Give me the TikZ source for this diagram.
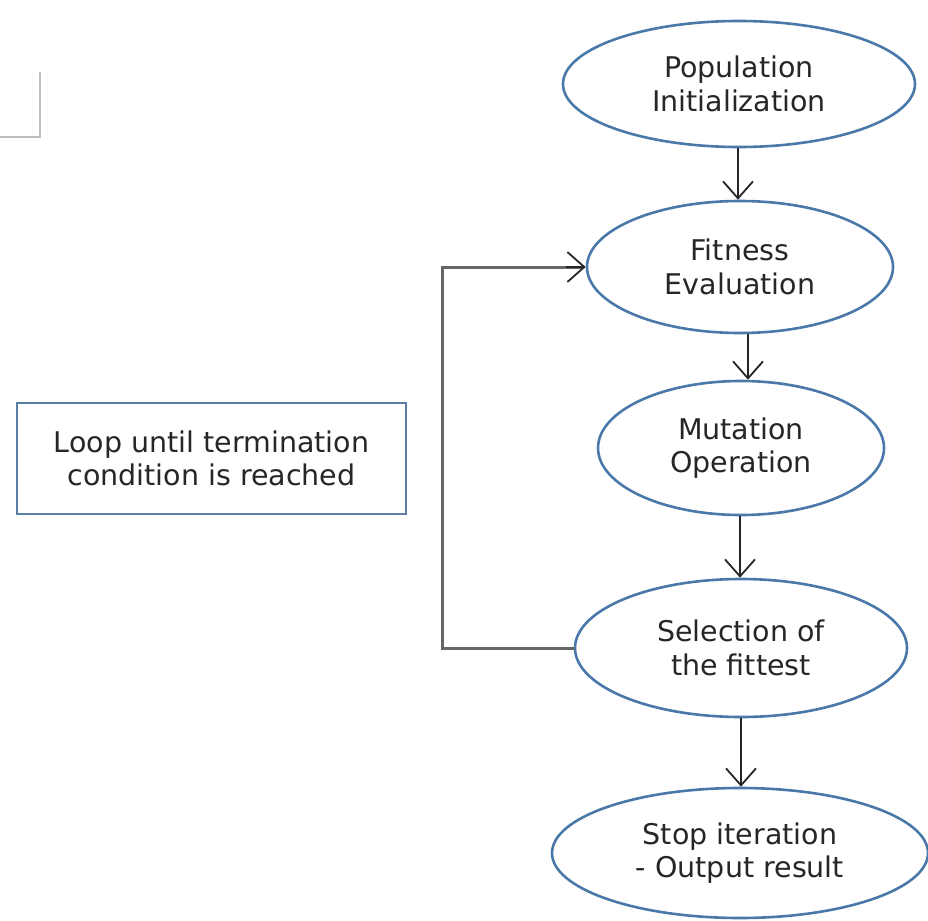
\documentclass[tikz,border=0pt]{standalone}
\usepackage{fontspec}
\setmainfont{DejaVu Sans}
\usetikzlibrary{shapes.geometric,arrows.meta}
\definecolor{ellblue}{HTML}{4A78A8}
\definecolor{boxblue}{HTML}{5A7EA6}
\definecolor{txt}{HTML}{262626}
\definecolor{loopgray}{HTML}{666666}
\tikzset{
  stage/.style={ellipse, draw=ellblue, line width=2.6pt, inner sep=0pt,
    align=center, text=txt, font=\fontsize{28.5}{33.5}\selectfont},
  note/.style={rectangle, draw=boxblue, line width=2.2pt, inner sep=0pt,
    align=center, text=txt, font=\fontsize{28.5}{33.5}\selectfont},
  flow/.style={draw=black!85, line width=1.8pt,
    -{Straight Barb[length=17pt,width=30pt,line width=1.8pt]}},
  loopline/.style={draw=loopgray, line width=3pt},
}
\begin{document}
\begin{tikzpicture}[x=1pt,y=-1pt]
  \useasboundingbox (0,0) rectangle (928,920);
  % corner mark at the upper left
  \draw[black!25, line width=1.5pt] (40,72) -- (40,137) -- (0,137);

  % process stages
  \node[stage, minimum width=352pt, minimum height=126pt] (pop) at (739,84) {Population\\Initialization};
  \node[stage, minimum width=306pt, minimum height=132pt] (fit) at (740,267) {Fitness\\Evaluation};
  \node[stage, minimum width=286pt, minimum height=134pt] (mut) at (741,448) {Mutation\\Operation};
  \node[stage, minimum width=332pt, minimum height=138pt] (sel) at (741,648) {Selection of\\the fittest};
  \node[stage, minimum width=376pt, minimum height=130pt] (stop) at (740,853) {Stop iteration\\- Output result};

  % loop annotation
  \node[note, minimum width=389pt, minimum height=111pt] (loopnote) at (211.5,458.5) {Loop until termination\\condition is reached};

  % forward flow
  \draw[flow] ([xshift=-1pt]pop.south) -- ([xshift=-1pt]pop.south |- fit.north);
  \draw[flow] ([xshift=8pt]fit.south) -- ([xshift=8pt]fit.south |- mut.north);
  \draw[flow] ([xshift=-1pt]mut.south) -- ([xshift=-1pt]mut.south |- sel.north);
  \draw[flow] (sel.south) -- (sel.south |- stop.north);

  % feedback loop
  \coordinate (lb) at (442,648);
  \coordinate (lt) at (442,267);
  \draw[loopline] (sel.west) -- (lb) -- (lt) -- ([xshift=-3pt]fit.west);
  \draw[flow] ([xshift=-20pt]fit.west) -- (fit.west);
\end{tikzpicture}
\end{document}
